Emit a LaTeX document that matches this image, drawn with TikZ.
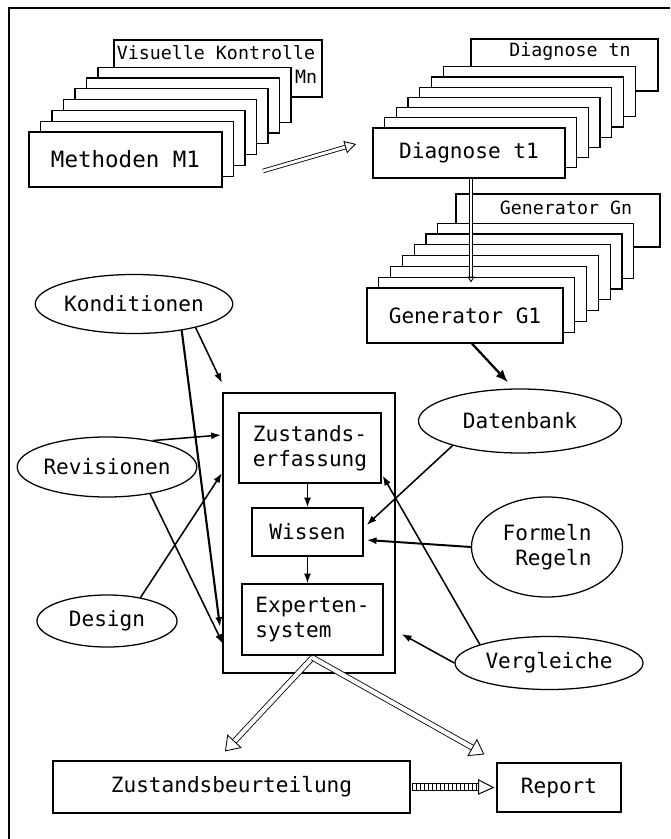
\documentclass[tikz,border=0pt]{standalone}
\usepackage{fontspec}
\newfontfamily\mono{DejaVu Sans Mono}
\usetikzlibrary{calc,shapes.geometric,arrows.meta}

\tikzset{
  card/.style={draw, fill=white, line width=0.9pt},
  box/.style={draw, fill=white, line width=0.9pt, inner sep=0pt, font=\mono\fontsize{15}{18}\selectfont},
  oval/.style={ellipse, draw, fill=white, line width=0.9pt, inner sep=0pt, font=\mono\fontsize{15}{18}\selectfont},
  cardtext/.style={inner sep=0pt, font=\mono\fontsize{13}{15}\selectfont},
  arr/.style={line width=1.1pt, -{Latex[length=7pt,width=5pt]}},
  hollow/.style n args={3}{double, double distance=#1, line width=0.6pt,
    -{Triangle[open, line width=0.6pt, length=#2, width=#3]}}
}

\begin{document}
\begin{tikzpicture}[x=0.025cm, y=-0.025cm]
\fill[white] (0,0) rectangle (670,839);
\useasboundingbox (0,0) rectangle (670,839);
\draw[line width=0.8pt] (670,8) -- (9,8) -- (9,839);

% methods
\draw[card] (114,40) rectangle (322,97);
\node[cardtext] (vk) at (216,53) {Visuelle Kontrolle};
\node[cardtext] (mn) at (306,77) {Mn};
\foreach \i in {6,...,1}
  \draw[card] (29+11.5*\i,132-10.8*\i) rectangle +(193,55);
\node[box, minimum width=4.825cm, minimum height=1.375cm, font=\mono\fontsize{16}{19}\selectfont] (meth) at (125.5,159.5) {Methoden M1};

% diagnoses
\draw[card] (471,39) rectangle (658,91);
\node[cardtext] (dtn) at (570,52) {Diagnose tn};
\foreach \i in {6,...,1}
  \draw[card] (373+11.7*\i,128-10.2*\i) rectangle +(192,50);
\node[box, minimum width=4.8cm, minimum height=1.25cm] (diag) at (469,153) {Diagnose t1};

% generators
\draw[card] (456,194) rectangle (660,247);
\node[cardtext] (ggn) at (566,208) {Generator Gn};
\foreach \i in {6,...,1}
  \draw[card] (367+11.8*\i,288-10.8*\i) rectangle +(196,55);
\node[box, minimum width=4.9cm, minimum height=1.375cm] (gen) at (465,315.5) {Generator G1};

\coordinate (m1) at (263,171);
\coordinate (d1) at (356,144);
\draw[hollow={2pt}{8pt}{9pt}] (m1) -- (d1);
\draw[hollow={1.2pt}{4pt}{5pt}] ($(diag.south)+(2,0)$) -- ($(gen.north)+(6,-5)$);

% system
\node[box, minimum width=4.3cm, minimum height=7cm] (sys) at (309,533) {};
\node[box, minimum width=3.55cm, minimum height=1.75cm, align=center] (zust) at (310,448) {Zustands-\\erfassung};
\node[box, minimum width=2.775cm, minimum height=1.2cm] (wis) at (307.5,532) {Wissen};
\node[box, minimum width=3.525cm, minimum height=1.775cm, align=left] (exp) at (312.5,619.5) {Experten-\\system};

\node[oval, minimum width=4.85cm, minimum height=1.475cm] (kond) at (134,304) {Konditionen};
\node[oval, minimum width=4.325cm, minimum height=1.5cm] (rev) at (107,467) {Revisionen};
\node[oval, minimum width=3.5cm, minimum height=1.3cm] (des) at (107,621) {Design};
\node[oval, minimum width=5.075cm, minimum height=1.6cm] (dat) at (520,421) {Datenbank};
\node[oval, minimum width=3.775cm, minimum height=2.5cm, align=right] (form) at (547,547) {Formeln\\Regeln};
\node[oval, minimum width=4.7cm, minimum height=1.325cm] (verg) at (549,663) {Vergleiche};

% results
\node[box, minimum width=8.925cm, minimum height=1.3cm] (zb) at (231.5,787) {Zustandsbeurteilung};
\node[box, minimum width=3.1cm, minimum height=1.225cm] (rep) at (559,787.5) {Report};

% inputs
\coordinate (k1) at (222,383);
\coordinate (k2) at (220,627);
\coordinate (r1) at (221,435);
\coordinate (d2) at (222,473);
\coordinate (r2) at (223,644);
\draw[arr] (kond.-21) -- (k1);
\draw[arr, line width=1.5pt] (kond.-29.5) -- (k2);
\draw[arr] (rev.30) -- (r1);
\draw[arr] (des.35) -- (d2);
\draw[arr] (rev.-32) -- (r2);
\draw[line width=1.6pt, -{Latex[length=9pt,width=7pt]}] ($(gen.south)+(7,0)$) -- ($(dat.north)+(-12,-6)$);
\draw[arr] (dat.-160) -- ($(wis.east)+(3,-7)$);
\draw[arr, line width=1.4pt] (form.west) -- ($(wis.east)+(3,8)$);
\draw[arr] (verg.165) -- ($(zust.south east)+(1,-8)$);
\draw[arr] (verg.west) -- ($(sys.east)+(6,101)$);
\draw[arr] (zust.south -| wis.north) -- (wis.north);
\draw[arr] (wis.south) -- (wis.south |- exp.north);

% outputs
\draw[hollow={3pt}{10pt}{14pt}] ($(exp.south)+(0,2)$) -- ($(zb.north)+(-6.5,-9)$);
\draw[hollow={3pt}{10pt}{14pt}] ($(exp.south)+(0,2)$) -- ($(rep.north west)+(-12,-8)$);
\draw[line width=0.7pt] ($(zb.east)+(2,-3.5)$) rectangle ($(zb.east)+(68,3.5)$);
\foreach \k in {0,...,16}
  \draw[line width=0.5pt] ($(zb.east)+(2+4*\k,-3.5)$) -- +(0,7);
\draw[line width=0.7pt, fill=white] ($(zb.east)+(68,-7)$) -- ($(rep.west)+(-3,0)$) -- ($(zb.east)+(68,7)$) -- cycle;
\end{tikzpicture}
\end{document}
